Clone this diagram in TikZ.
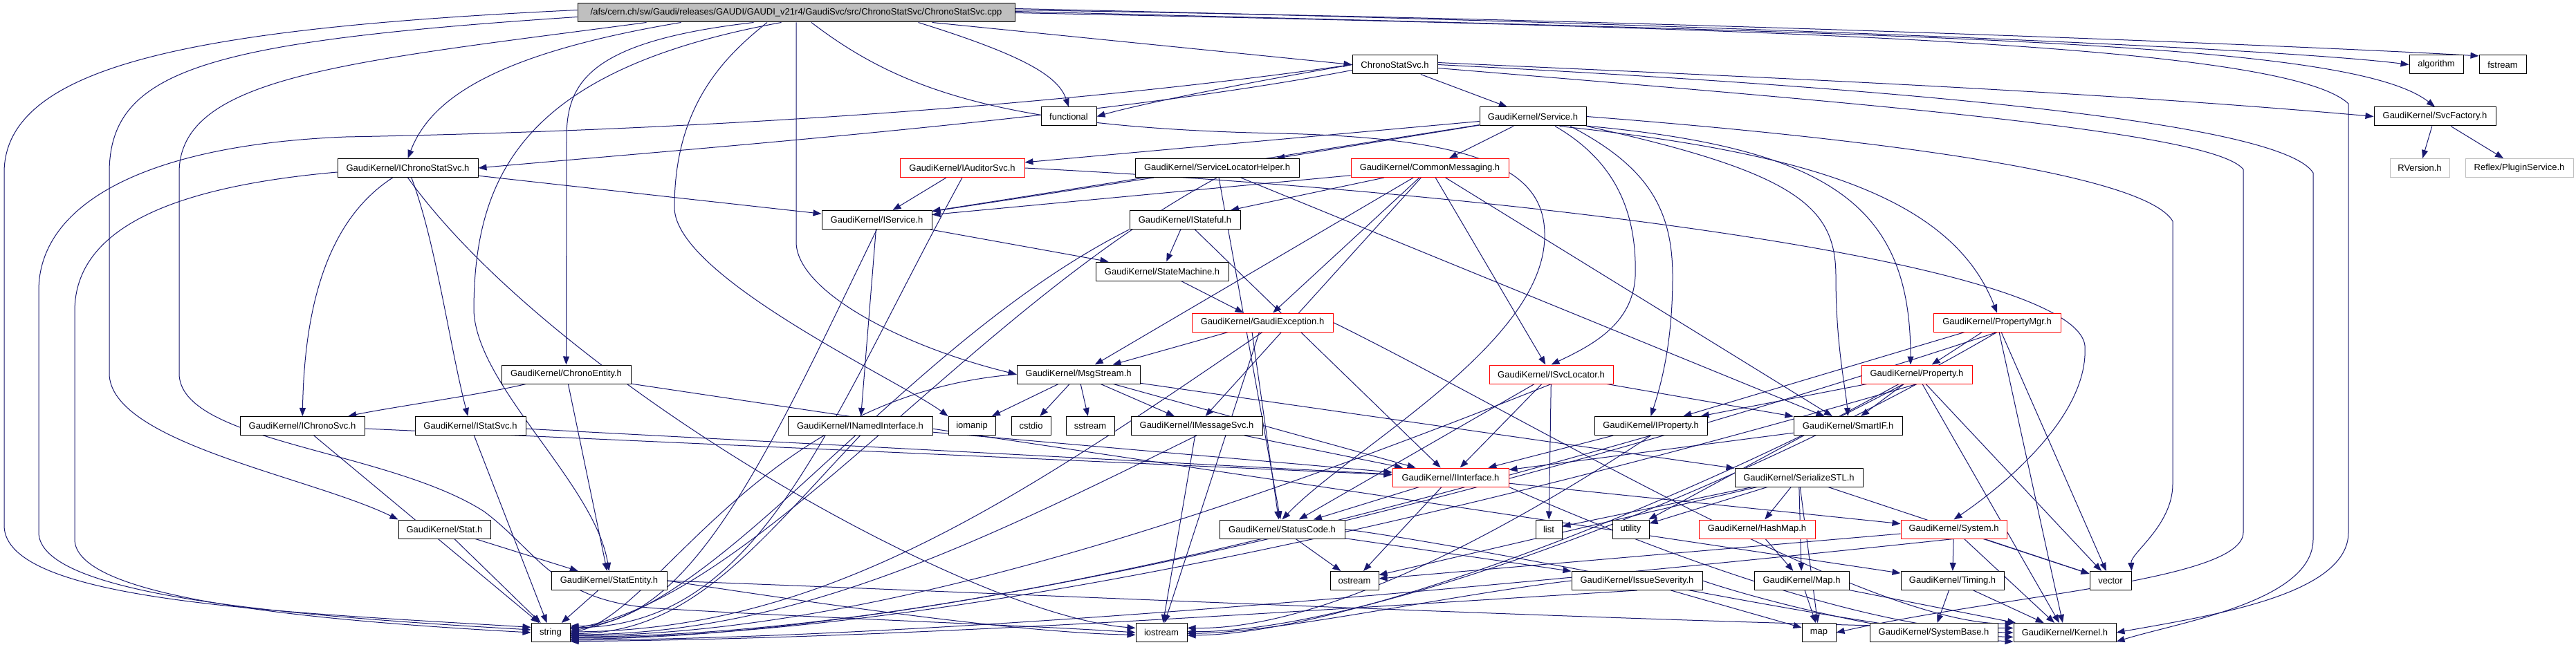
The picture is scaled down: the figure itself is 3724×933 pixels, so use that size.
\documentclass[tikz,border=0pt]{standalone}
\usepackage{fontspec}
\setmainfont{Liberation Sans}
\usetikzlibrary{arrows.meta}
\definecolor{eblue}{HTML}{191970}
\definecolor{gfill}{HTML}{BFBFBF}
\pgfdeclarelayer{bg}
\pgfdeclarelayer{paper}
\pgfsetlayers{paper,bg,main}
\tikzset{
 box/.style={draw=black, line width=1pt, fill=white, minimum height=27pt, inner sep=0pt, font=\fontsize{13}{15}\selectfont},
 rbox/.style={box, draw=red},
 gbox/.style={box, draw=gfill},
 lnk/.style={draw=eblue, line width=1pt, -{Triangle[length=12pt,width=9pt]}},
}
\begin{document}
\begin{tikzpicture}[x=1pt,y=-1pt]
\begin{pgfonlayer}{paper}
\fill[white] (0,0) rectangle (3724,933);
\end{pgfonlayer}
\useasboundingbox (0,0) rectangle (3724,933);
\node[box, fill=gfill, minimum width=632pt] (main) at (1151,18.5) {/afs/cern.ch/sw/Gaudi/releases/GAUDI/GAUDI\_v21r4/GaudiSvc/src/ChronoStatSvc/ChronoStatSvc.cpp};
\node[box, minimum width=123pt] (csh) at (2016.5,93.5) {ChronoStatSvc.h};
\node[box, minimum width=78pt] (alg) at (3522,93.5) {algorithm};
\node[box, minimum width=68pt] (fst) at (3618,93.5) {fstream};
\node[box, minimum width=80pt] (func) at (1545,168.5) {functional};
\node[box, minimum width=154pt] (svc) at (2216,168.5) {GaudiKernel/Service.h};
\node[box, minimum width=176pt] (sf) at (3520,168.5) {GaudiKernel/SvcFactory.h};
\node[box, minimum width=203pt] (ichs) at (589.5,243) {GaudiKernel/IChronoStatSvc.h};
\node[rbox, minimum width=180pt] (iaud) at (1391,243) {GaudiKernel/IAuditorSvc.h};
\node[box, minimum width=237pt] (slh) at (1759.5,243) {GaudiKernel/ServiceLocatorHelper.h};
\node[rbox, minimum width=228pt] (cm) at (2067,243) {GaudiKernel/CommonMessaging.h};
\node[gbox, minimum width=86pt] (rv) at (3498,243) {RVersion.h};
\node[gbox, minimum width=156pt] (rps) at (3642,243) {Reflex/PluginService.h};
\node[box, minimum width=159pt] (isvc) at (1267.5,318) {GaudiKernel/IService.h};
\node[box, minimum width=160pt] (ist) at (1713,318) {GaudiKernel/IStateful.h};
\node[box, minimum width=192pt] (sm) at (1680,392.5) {GaudiKernel/StateMachine.h};
\node[rbox, minimum width=204pt] (ge) at (1825,466.5) {GaudiKernel/GaudiException.h};
\node[rbox, minimum width=184pt] (pmgr) at (2887,466.5) {GaudiKernel/PropertyMgr.h};
\node[box, minimum width=187pt] (ce) at (818.5,541.5) {GaudiKernel/ChronoEntity.h};
\node[box, minimum width=178pt] (ms) at (1559,541.5) {GaudiKernel/MsgStream.h};
\node[rbox, minimum width=179pt] (isl) at (2242.5,541.5) {GaudiKernel/ISvcLocator.h};
\node[rbox, minimum width=160pt] (prop) at (2771,541.5) {GaudiKernel/Property.h};
\node[box, minimum width=180pt] (ichr) at (437,616) {GaudiKernel/IChronoSvc.h};
\node[box, minimum width=160pt] (istat) at (680,616) {GaudiKernel/IStatSvc.h};
\node[box, minimum width=209pt] (ini) at (1243.5,616) {GaudiKernel/INamedInterface.h};
\node[box, minimum width=68pt] (iom) at (1405,616) {iomanip};
\node[box, minimum width=57pt] (cst) at (1490.5,616) {cstdio};
\node[box, minimum width=70pt] (sst) at (1576,616) {sstream};
\node[box, minimum width=190pt] (imsg) at (1730,616) {GaudiKernel/IMessageSvc.h};
\node[box, minimum width=163pt] (iprop) at (2386.5,616) {GaudiKernel/IProperty.h};
\node[box, minimum width=157pt] (sif) at (2671.5,616) {GaudiKernel/SmartIF.h};
\node[rbox, minimum width=168pt] (ii) at (2097,690.5) {GaudiKernel/IInterface.h};
\node[box, minimum width=185pt] (ser) at (2600.5,690.5) {GaudiKernel/SerializeSTL.h};
\node[box, minimum width=133pt] (stat) at (642.5,765.5) {GaudiKernel/Stat.h};
\node[box, minimum width=181pt] (sc) at (1853.5,765.5) {GaudiKernel/StatusCode.h};
\node[box, minimum width=38pt] (list) at (2239,765.5) {list};
\node[box, minimum width=53pt] (util) at (2357.5,765.5) {utility};
\node[rbox, minimum width=168pt] (hm) at (2540,765.5) {GaudiKernel/HashMap.h};
\node[rbox, minimum width=153pt] (sys) at (2824.5,765.5) {GaudiKernel/System.h};
\node[box, minimum width=167pt] (se) at (880.5,840) {GaudiKernel/StatEntity.h};
\node[box, minimum width=70pt] (ost) at (1958,840) {ostream};
\node[box, minimum width=189pt] (is) at (2366.5,840) {GaudiKernel/IssueSeverity.h};
\node[box, minimum width=137pt] (map) at (2604.5,840) {GaudiKernel/Map.h};
\node[box, minimum width=149pt] (tim) at (2822.5,840) {GaudiKernel/Timing.h};
\node[box, minimum width=60pt] (vec) at (3051,840) {vector};
\node[box, minimum width=56pt] (str) at (796,915) {string};
\node[box, minimum width=74pt] (ios) at (1679,915) {iostream};
\node[box, minimum width=49pt] (mapstd) at (2629.5,915) {map};
\node[box, minimum width=185pt] (sb) at (2795.5,915) {GaudiKernel/SystemBase.h};
\node[box, minimum width=148pt] (ker) at (2985,915) {GaudiKernel/Kernel.h};

\begin{pgfonlayer}{bg}
% long routed edges
\draw[lnk] ([yshift=4pt]main.west) .. controls (300,40) and (6,90) .. (6,250) -- (6,760) .. controls (6,870) and (400,885) .. (str.165);
\draw[lnk] (csh.west) .. controls (1700,130) and (1200,185) .. (500,198) .. controls (200,210) and (56,300) .. (56,420) -- (56,770) .. controls (56,860) and (400,890) .. (str.172);
\draw[lnk] ([yshift=-6pt]ichs.west) .. controls (250,270) and (108,330) .. (108,450) -- (108,780) .. controls (108,860) and (400,895) .. (str.180);
\draw[lnk] ([yshift=-6pt]main.west) .. controls (300,60) and (158,100) .. (158,250) -- (158,540) .. controls (158,640) and (450,690) .. (stat.north west);
\draw[lnk] ([xshift=100pt]main.south west) .. controls (500,90) and (259,110) .. (259,250) -- (259,540) .. controls (259,640) and (560,650) .. (700,740) .. controls (780,800) and (800,870) .. (950,880) .. controls (1200,895) and (1500,905) .. (ios.west);
\draw[lnk] (main.east) .. controls (2500,40) and (3300,60) .. (3395,150) -- (3395,770) .. controls (3395,860) and (3200,890) .. (ker.east);
\draw[lnk] (csh.east) .. controls (2800,130) and (3300,180) .. (3344,250) -- (3344,780) .. controls (3344,870) and (3150,900) .. (ker.-10);
\draw[lnk] ([yshift=-5pt]csh.east) .. controls (2700,150) and (3200,190) .. (3243,245) -- (3243,770) .. controls (3243,840) and (2900,860) .. (mapstd.east);
\draw[lnk] (svc.east) .. controls (2700,200) and (3100,250) .. (3141,320) -- (3141,700) .. controls (3141,760) and (3080,800) .. (vec.north east);
\draw[lnk] ([xshift=255pt]main.south west) .. controls (850,60) and (819,120) .. (819,200) -- (ce.north);
\draw[lnk] ([xshift=295pt]main.south west) .. controls (760,100) and (685,250) .. (685,450) .. controls (690,560) and (860,700) .. (se.north);
\draw[lnk] ([xshift=-42pt]main.south) .. controls (1050,80) and (975,150) .. (975,300) .. controls (975,400) and (1300,550) .. (iom.north west);
\draw[lnk] (main.south) -- (1151,350) .. controls (1151,420) and (1300,500) .. (ms.west);
\draw[lnk] ([xshift=22pt]main.south) .. controls (1300,130) and (1450,185) .. (1850,193) .. controls (2150,200) and (2235,250) .. (2233,343) .. controls (2230,500) and (1950,650) .. (sc.north);
\draw[lnk] ([xshift=150pt]main.south west) .. controls (700,80) and (620,150) .. (ichs.north);
\draw[lnk] ([xshift=-140pt]main.south east) .. controls (1480,80) and (1530,110) .. (func.north);
\draw[lnk] ([xshift=-120pt]main.south east) -- (csh.west);
\draw[lnk] ([yshift=6pt]main.east) .. controls (2500,35) and (3300,70) .. (alg.west);
\draw[lnk] ([yshift=4pt]main.east) .. controls (2500,30) and (3400,70) .. (fst.160);
\draw[lnk] ([yshift=2pt]main.east) .. controls (2800,50) and (3400,60) .. (sf.north);
\draw[lnk] ([yshift=3pt]csh.east) .. controls (2500,110) and (3000,130) .. (sf.west);
\draw[lnk] (csh.west) .. controls (1800,120) and (1650,150) .. (func.east);
\draw[lnk] ([yshift=-8pt]csh.west) .. controls (1600,170) and (1000,215) .. (ichs.east);
\draw[lnk] (csh) -- (svc);
% Service.h
\draw[lnk] (svc) -- (isvc);
\draw[lnk] (svc) -- (iaud);
\draw[lnk] (svc) -- (slh);
\draw[lnk] (svc) -- (cm);
\draw[lnk] (svc.-20) .. controls (2600,220) and (2820,280) .. (pmgr.north);
\draw[lnk] (svc.-10) .. controls (2650,215) and (2762,300) .. ([xshift=-9pt]prop.north);
\draw[lnk] (svc.south east) .. controls (2600,250) and (2654,300) .. (2654,400) .. controls (2654,500) and (2668,560) .. (sif.north);
\draw[lnk] ([xshift=54pt]svc.south) .. controls (2380,240) and (2418,300) .. (2418,400) .. controls (2418,500) and (2400,560) .. (iprop.north);
\draw[lnk] ([xshift=32pt]svc.south) .. controls (2330,230) and (2367,300) .. (2364,400) .. controls (2360,470) and (2300,500) .. (isl.north);
\draw[lnk] (sf) -- (rv);
\draw[lnk] (sf) -- (rps);
% IChronoStatSvc.h
\draw[lnk] (ichs) .. controls (470,320) and (440,450) .. (ichr);
\draw[lnk] (ichs) .. controls (630,350) and (650,500) .. (istat);
\draw[lnk] (ichs) -- (isvc);
\draw[lnk] (ichs.south) .. controls (800,550) and (1400,890) .. (ios.170);
% edges into string from the right
\draw[lnk] (iaud.south) .. controls (1193,619) and (1100,905) .. (str.14);
\draw[lnk] (slh.south) .. controls (1400,450) and (1100,860) .. (str.10);
\draw[lnk] (isvc.south) .. controls (1112,653) and (1000,905) .. (str.18);
\draw[lnk] (ist.south west) .. controls (1300,500) and (1050,880) .. (str.6);
\draw[lnk] (ge.south) .. controls (1475,719) and (1200,910) .. (str.2);
\draw[lnk] (ms.west) .. controls (1100,570) and (950,890) .. (str.0);
\draw[lnk] (ini.south) .. controls (1096,786) and (1000,915) .. (str.-3);
\draw[lnk] (imsg.south) .. controls (1413,786) and (1150,917) .. (str.-6);
\draw[lnk] (isl.south) .. controls (1746,753) and (1250,918) .. (str.-9);
\draw[lnk] (iprop.south) .. controls (1839,786) and (1300,920) .. (str.-12);
\draw[lnk] (prop.south) .. controls (2090,753) and (1350,921) .. (str.-15);
\draw[lnk] (pmgr.south) .. controls (2165,719) and (1350,922) .. (str.-18);
\draw[lnk] (sys.south) .. controls (2124,854) and (1350,923) .. (str.-21);
\draw[lnk] (is.south) .. controls (1826,887) and (1300,924) .. (str.-24);
% others
\draw[lnk] (iaud) -- (isvc);
\draw[lnk] (iaud.east) .. controls (2200,280) and (3000,380) .. (3014,500) .. controls (3020,600) and (2900,700) .. (sys.north);
\draw[lnk] (slh) -- (isvc);
\draw[lnk] (slh) -- (sc);
\draw[lnk] (slh) -- (sif);
\draw[lnk] (cm) -- (isvc);
\draw[lnk] (cm) -- (ms);
\draw[lnk] (cm) -- (imsg);
\draw[lnk] (cm) -- (ge);
\draw[lnk] (cm) -- (isl);
\draw[lnk] (cm) -- (sif);
\draw[lnk] (cm) -- (ist);
\draw[lnk] (isvc) -- (ini);
\draw[lnk] (isvc) -- (sm);
\draw[lnk] (ist) -- (sm);
\draw[lnk] (ist) -- (ii);
\draw[lnk] (sm) -- (ge);
\draw[lnk] (ge) -- (ms);
\draw[lnk] ([xshift=-15pt]ge.south) -- ([xshift=-5pt]sc.north);
\draw[lnk] (ge) -- (ios);
\draw[lnk] (ge.east) .. controls (2200,600) and (2700,905) .. (ker.170);
\draw[lnk] (pmgr) -- (iprop);
\draw[lnk] (pmgr) -- (prop);
\draw[lnk] (pmgr) -- (vec);
\draw[lnk] (pmgr) -- (ker);
\draw[lnk] (pmgr.south) .. controls (2477,719) and (1950,918) .. (ios.-6);
\draw[lnk] (ce) .. controls (700,570) and (560,590) .. (ichr);
\draw[lnk] (ce) -- (se);
\draw[lnk] (ce) -- (tim);
\draw[lnk] (ms) -- (iom);
\draw[lnk] (ms) -- (cst);
\draw[lnk] (ms) -- (sst);
\draw[lnk] (ms) -- (imsg);
\draw[lnk] (ms) -- (ii);
\draw[lnk] (ms) -- (ser);
\draw[lnk] (isl) -- (ii);
\draw[lnk] (isl) -- (list);
\draw[lnk] (isl) -- (sc);
\draw[lnk] (isl) -- (sif);
\draw[lnk] (prop) -- (iprop);
\draw[lnk] (prop) -- (sif);
\draw[lnk] (prop) -- (ker);
\draw[lnk] (prop) -- (vec);
\draw[lnk] (prop) -- (util);
\draw[lnk] (prop.south) .. controls (2402,753) and (1950,914) .. (ios.2);
\draw[lnk] (ichr) -- (ii);
\draw[lnk] (ichr) -- (str);
\draw[lnk] (istat) -- (ii);
\draw[lnk] (istat) -- (str);
\draw[lnk] (ini) -- (ii);
\draw[lnk] (imsg) -- (ii);
\draw[lnk] (imsg) -- (ios);
\draw[lnk] (iprop) -- (ii);
\draw[lnk] (iprop.south) .. controls (2151,786) and (1900,911) .. (ios.10);
\draw[lnk] (sif) -- (ii);
\draw[lnk] (ii) -- (sc);
\draw[lnk] (ii) -- (ost);
\draw[lnk] (ii) -- (sys);
\draw[lnk] (ii.south east) .. controls (2400,800) and (2700,912) .. (ker.180);
\draw[lnk] (ser) -- (list);
\draw[lnk] (ser) -- (util);
\draw[lnk] (ser) -- (hm);
\draw[lnk] (ser) -- (map);
\draw[lnk] (ser) -- (mapstd);
\draw[lnk] (ser) -- (vec);
\draw[lnk] (ser) -- (ost);
\draw[lnk] (stat) -- (str);
\draw[lnk] (stat) -- (se);
\draw[lnk] (sc) -- (ost);
\draw[lnk] (sc) -- (is);
\draw[lnk] (sc.east) .. controls (2200,800) and (2700,915) .. (ker.185);
\draw[lnk] (hm) -- (map);
\draw[lnk] (sys) -- (tim);
\draw[lnk] (sys) -- (vec);
\draw[lnk] (sys) -- (ker);
\draw[lnk] (sys) -- (ost);
\draw[lnk] (se) -- (str);
\draw[lnk] (se.east) .. controls (1100,860) and (1450,915) .. (ios.185);
\draw[lnk] (se.east) .. controls (1500,860) and (2500,905) .. (ker.175);
\draw[lnk] (is) -- (mapstd);
\draw[lnk] (is.east) .. controls (2550,870) and (2750,920) .. (ker.190);
\draw[lnk] (is.west) .. controls (2100,860) and (1850,915) .. (ios.-2);
\draw[lnk] (map) -- (mapstd);
\draw[lnk] (map) -- (ker);
\draw[lnk] (tim) -- (sb);
\draw[lnk] (tim) -- (ker);
\end{pgfonlayer}
\end{tikzpicture}
\end{document}
